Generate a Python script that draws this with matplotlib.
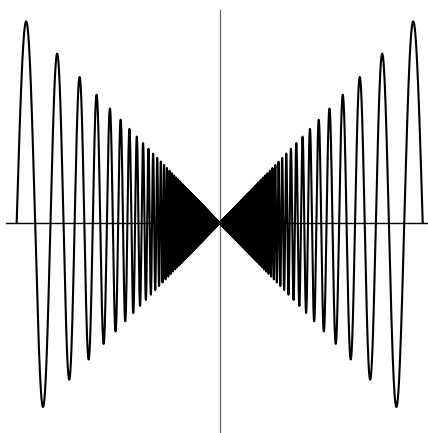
import matplotlib
matplotlib.use("Agg")
import matplotlib.pyplot as plt
import numpy as np

# curve y = x * sin(FREQ / x), plotted on [X_MIN, X_MAX]
X_MIN = -1.0
X_MAX = 1.0
FREQ = 10 * np.pi
N_SAMPLES = 40000

# visible window (data units)
XLIM = (-1.082, 1.026)
YLIM = (-0.993, 1.054)
AXIS_HALF_X = 1.053
AXIS_HALF_Y = 1.007

x = np.linspace(X_MIN, X_MAX, N_SAMPLES)
x = x[x != 0]
y = x * np.sin(FREQ / x)

fig = plt.figure(figsize=(4.28, 4.33), dpi=100)
ax = fig.add_axes([0, 0, 1, 1])
ax.set_xlim(*XLIM)
ax.set_ylim(*YLIM)

# axes through the origin
ax.plot([-AXIS_HALF_X, AXIS_HALF_X], [0, 0], color="black", lw=1.0, zorder=1)
ax.plot([0, 0], [-AXIS_HALF_Y, AXIS_HALF_Y], color="#666666", lw=0.9, zorder=1)

ax.plot(x, y, color="black", lw=1.5, zorder=2)

ax.axis("off")
fig.savefig("out.png", dpi=100)
